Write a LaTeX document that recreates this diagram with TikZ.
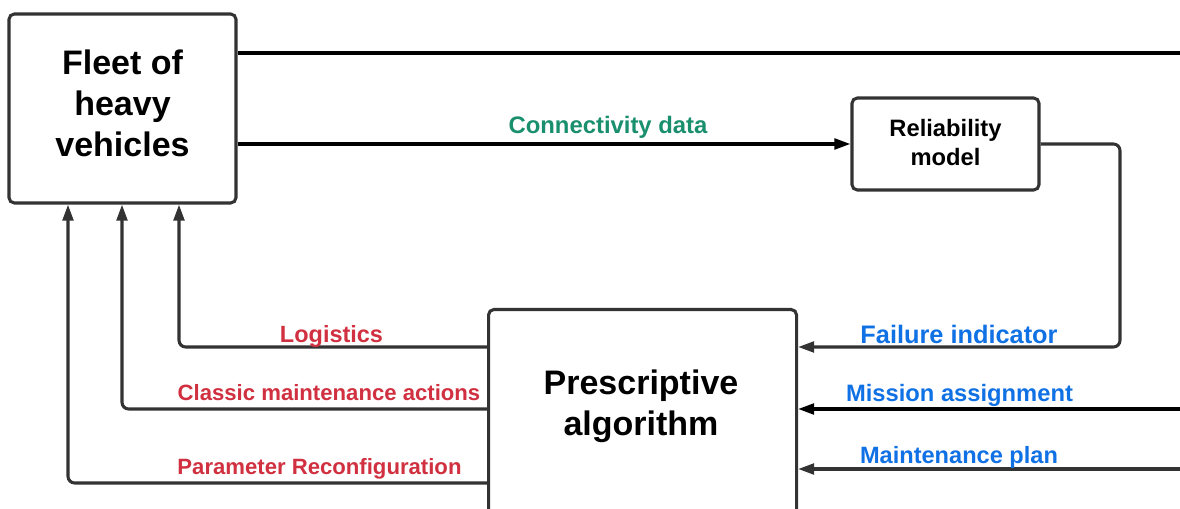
\documentclass[tikz,border=0pt]{standalone}
\usepackage{fontspec}
\setmainfont{Liberation Sans}
\usetikzlibrary{arrows.meta}
\definecolor{conngreen}{HTML}{1A8F6E}
\definecolor{actred}{HTML}{D0303F}
\definecolor{inblue}{HTML}{1071E5}
\definecolor{edgegray}{HTML}{333333}

\begin{document}
\begin{tikzpicture}[x=0.75pt, y=-0.75pt, line width=2.3pt,
    box/.style={draw=edgegray, rounded corners=4pt, fill=white, inner sep=0pt, align=center},
    flow/.style={-{Triangle[length=12pt,width=8pt]}, draw=edgegray},
    lbl/.style={anchor=base, font=\bfseries}]
        % fleet, model and algorithm blocks with their signal lines
        \clip (0,0) rectangle (1180,509);
        \node (fleet) [box, minimum width=170.25pt, minimum height=141.75pt, text depth=7.5pt, font=\fontsize{25.5}{30.75}\selectfont\bfseries] at (122.5,108.5) {Fleet of\\heavy\\vehicles};
        \node (rel) [box, minimum width=140.25pt, minimum height=69pt, text depth=3pt, font=\fontsize{17.8}{21.75}\selectfont\bfseries] at (945.5,144) {Reliability\\model};
        \node (presc) [box, minimum width=231pt, minimum height=155.25pt, anchor=north west] at (487,308) {};
        \node (presctxt) [align=center, font=\fontsize{25.5}{30.75}\selectfont\bfseries] at (641,406.5) {Prescriptive\\algorithm};

        \coordinate (topend) at (1185,53);
        \coordinate (missend) at (1185,409);
        \coordinate (planend) at (1185,469);

        \draw[black] (fleet.east |- 0,53) -- (topend);
        \draw[flow, draw=black] (fleet.east |- 0,144) -- (rel.west |- 0,144);
        \draw[flow, rounded corners=5pt] (rel.east) -- (1120,144) -- (1120,347) -- (presc.east |- 0,347);
        \draw[flow, draw=black] (missend) -- (presc.east |- 0,409);
        \draw[flow] (planend) -- (presc.east |- 0,469);

        \draw[flow, rounded corners=5pt] (presc.west |- 0,347) -| (fleet.south -| 179,0);
        \draw[flow, rounded corners=5pt] (presc.west |- 0,409) -| (fleet.south -| 122,0);
        \draw[flow, rounded corners=5pt] (presc.west |- 0,483) -| (fleet.south -| 68,0);

        \node[lbl, text=conngreen, font=\fontsize{17.9}{20}\selectfont\bfseries] at (608,134) {Connectivity data};
        \node[lbl, text=inblue, font=\fontsize{19}{21}\selectfont\bfseries] at (959,343) {Failure indicator};
        \node[lbl, text=inblue, font=\fontsize{17.8}{20}\selectfont\bfseries] at (959.5,401) {Mission assignment};
        \node[lbl, text=inblue, font=\fontsize{17.7}{20}\selectfont\bfseries] at (959,463) {Maintenance plan};
        \node[lbl, text=actred, font=\fontsize{17.6}{20}\selectfont\bfseries] at (331.5,342) {Logistics};
        \node[lbl, text=actred, font=\fontsize{16.6}{19}\selectfont\bfseries] at (329,400) {Classic maintenance actions};
        \node[lbl, text=actred, font=\fontsize{16.6}{19}\selectfont\bfseries] at (319.5,474) {Parameter Reconfiguration};
    \end{tikzpicture}
\end{document}
